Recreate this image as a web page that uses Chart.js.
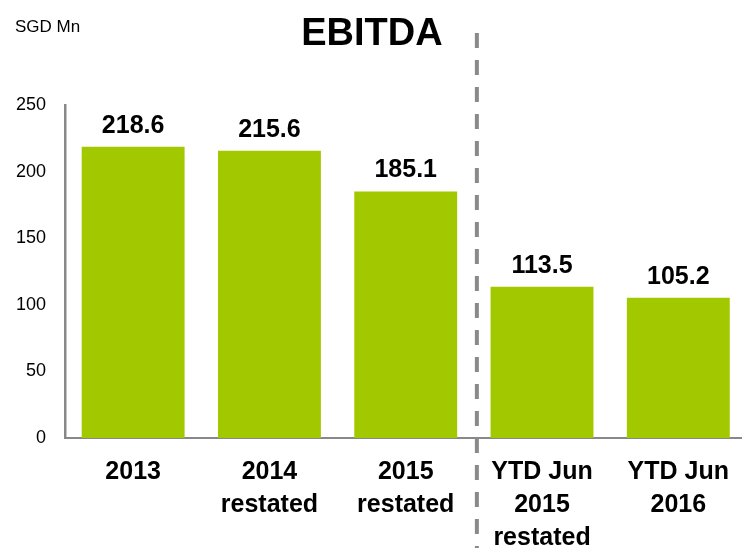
<!DOCTYPE html>
<html>
<head>
<meta charset="utf-8">
<script src="https://cdn.jsdelivr.net/npm/chart.js@4"></script>
<style>
  html, body { margin: 0; padding: 0; background: #fff; overflow: hidden; }
  #wrap { width: 742px; height: 548px; position: relative; overflow: hidden; }
</style>
</head>
<body>
<div id="wrap"><canvas id="c" width="747" height="548"></canvas></div>
<script>
  var categories = [["2013"], ["2014", "restated"], ["2015", "restated"], ["YTD Jun", "2015", "restated"], ["YTD Jun", "2016"]];
  var ebitda = [218.6, 215.6, 185.1, 113.5, 105.2];
  var yTicks = [0, 50, 100, 150, 200, 250];

  var FONT = "'Liberation Sans', Arial, sans-serif";
  var GREEN = "#a2c800";
  var AXIS = "#888888";

  // labels, title, unit and the divider between full-year and YTD bars
  var extras = {
    id: "extras",
    afterDatasetsDraw: function (chart) {
      var ctx = chart.ctx;
      var meta = chart.getDatasetMeta(0);
      ctx.save();
      ctx.fillStyle = "#000";
      ctx.textAlign = "center";
      ctx.textBaseline = "alphabetic";
      ctx.font = "bold 25px " + FONT;
      meta.data.forEach(function (bar, i) {
        ctx.fillText(ebitda[i].toFixed(1), bar.x, bar.y - 14);
      });

      ctx.font = "bold 38px " + FONT;
      ctx.fillText("EBITDA", 372, 45);

      ctx.textAlign = "left";
      ctx.font = "17px " + FONT;
      ctx.fillText("SGD Mn", 15, 32);

      var x = chart.scales.x;
      var divX = (x.getPixelForValue(2) + x.getPixelForValue(3)) / 2 + 3;
      ctx.strokeStyle = "#8a8a8a";
      ctx.lineWidth = 4;
      ctx.setLineDash([15, 12]);
      ctx.beginPath();
      ctx.moveTo(divX, 33);
      ctx.lineTo(divX, 548);
      ctx.stroke();
      ctx.restore();
    }
  };

  new Chart(document.getElementById("c"), {
    type: "bar",
    data: {
      labels: categories,
      datasets: [{
        data: ebitda,
        backgroundColor: GREEN,
        borderWidth: 0,
        barPercentage: 0.755,
        categoryPercentage: 1
      }]
    },
    options: {
      responsive: false,
      animation: false,
      layout: { padding: { top: 105, left: 10, right: 0, bottom: 0 } },
      plugins: { legend: { display: false }, tooltip: { enabled: false }, title: { display: false } },
      scales: {
        x: {
          grid: { display: false, drawTicks: false },
          border: { display: true, color: AXIS, width: 2 },
          ticks: {
            color: "#000",
            font: { family: FONT, size: 25, weight: "bold", lineHeight: 1.32 },
            padding: 18,
            maxRotation: 0,
            autoSkip: false
          },
          afterFit: function (s) { s.height = 110; }
        },
        y: {
          min: 0,
          max: 250,
          afterBuildTicks: function (s) {
            s.ticks = yTicks.map(function (v) { return { value: v }; });
          },
          grid: { display: false, drawTicks: false },
          border: { display: true, color: AXIS, width: 2.5 },
          ticks: {
            color: "#000",
            font: { family: FONT, size: 18 },
            padding: 19
          },
          afterFit: function (s) { s.width = 55; }
        }
      }
    },
    plugins: [extras]
  });
</script>
</body>
</html>
